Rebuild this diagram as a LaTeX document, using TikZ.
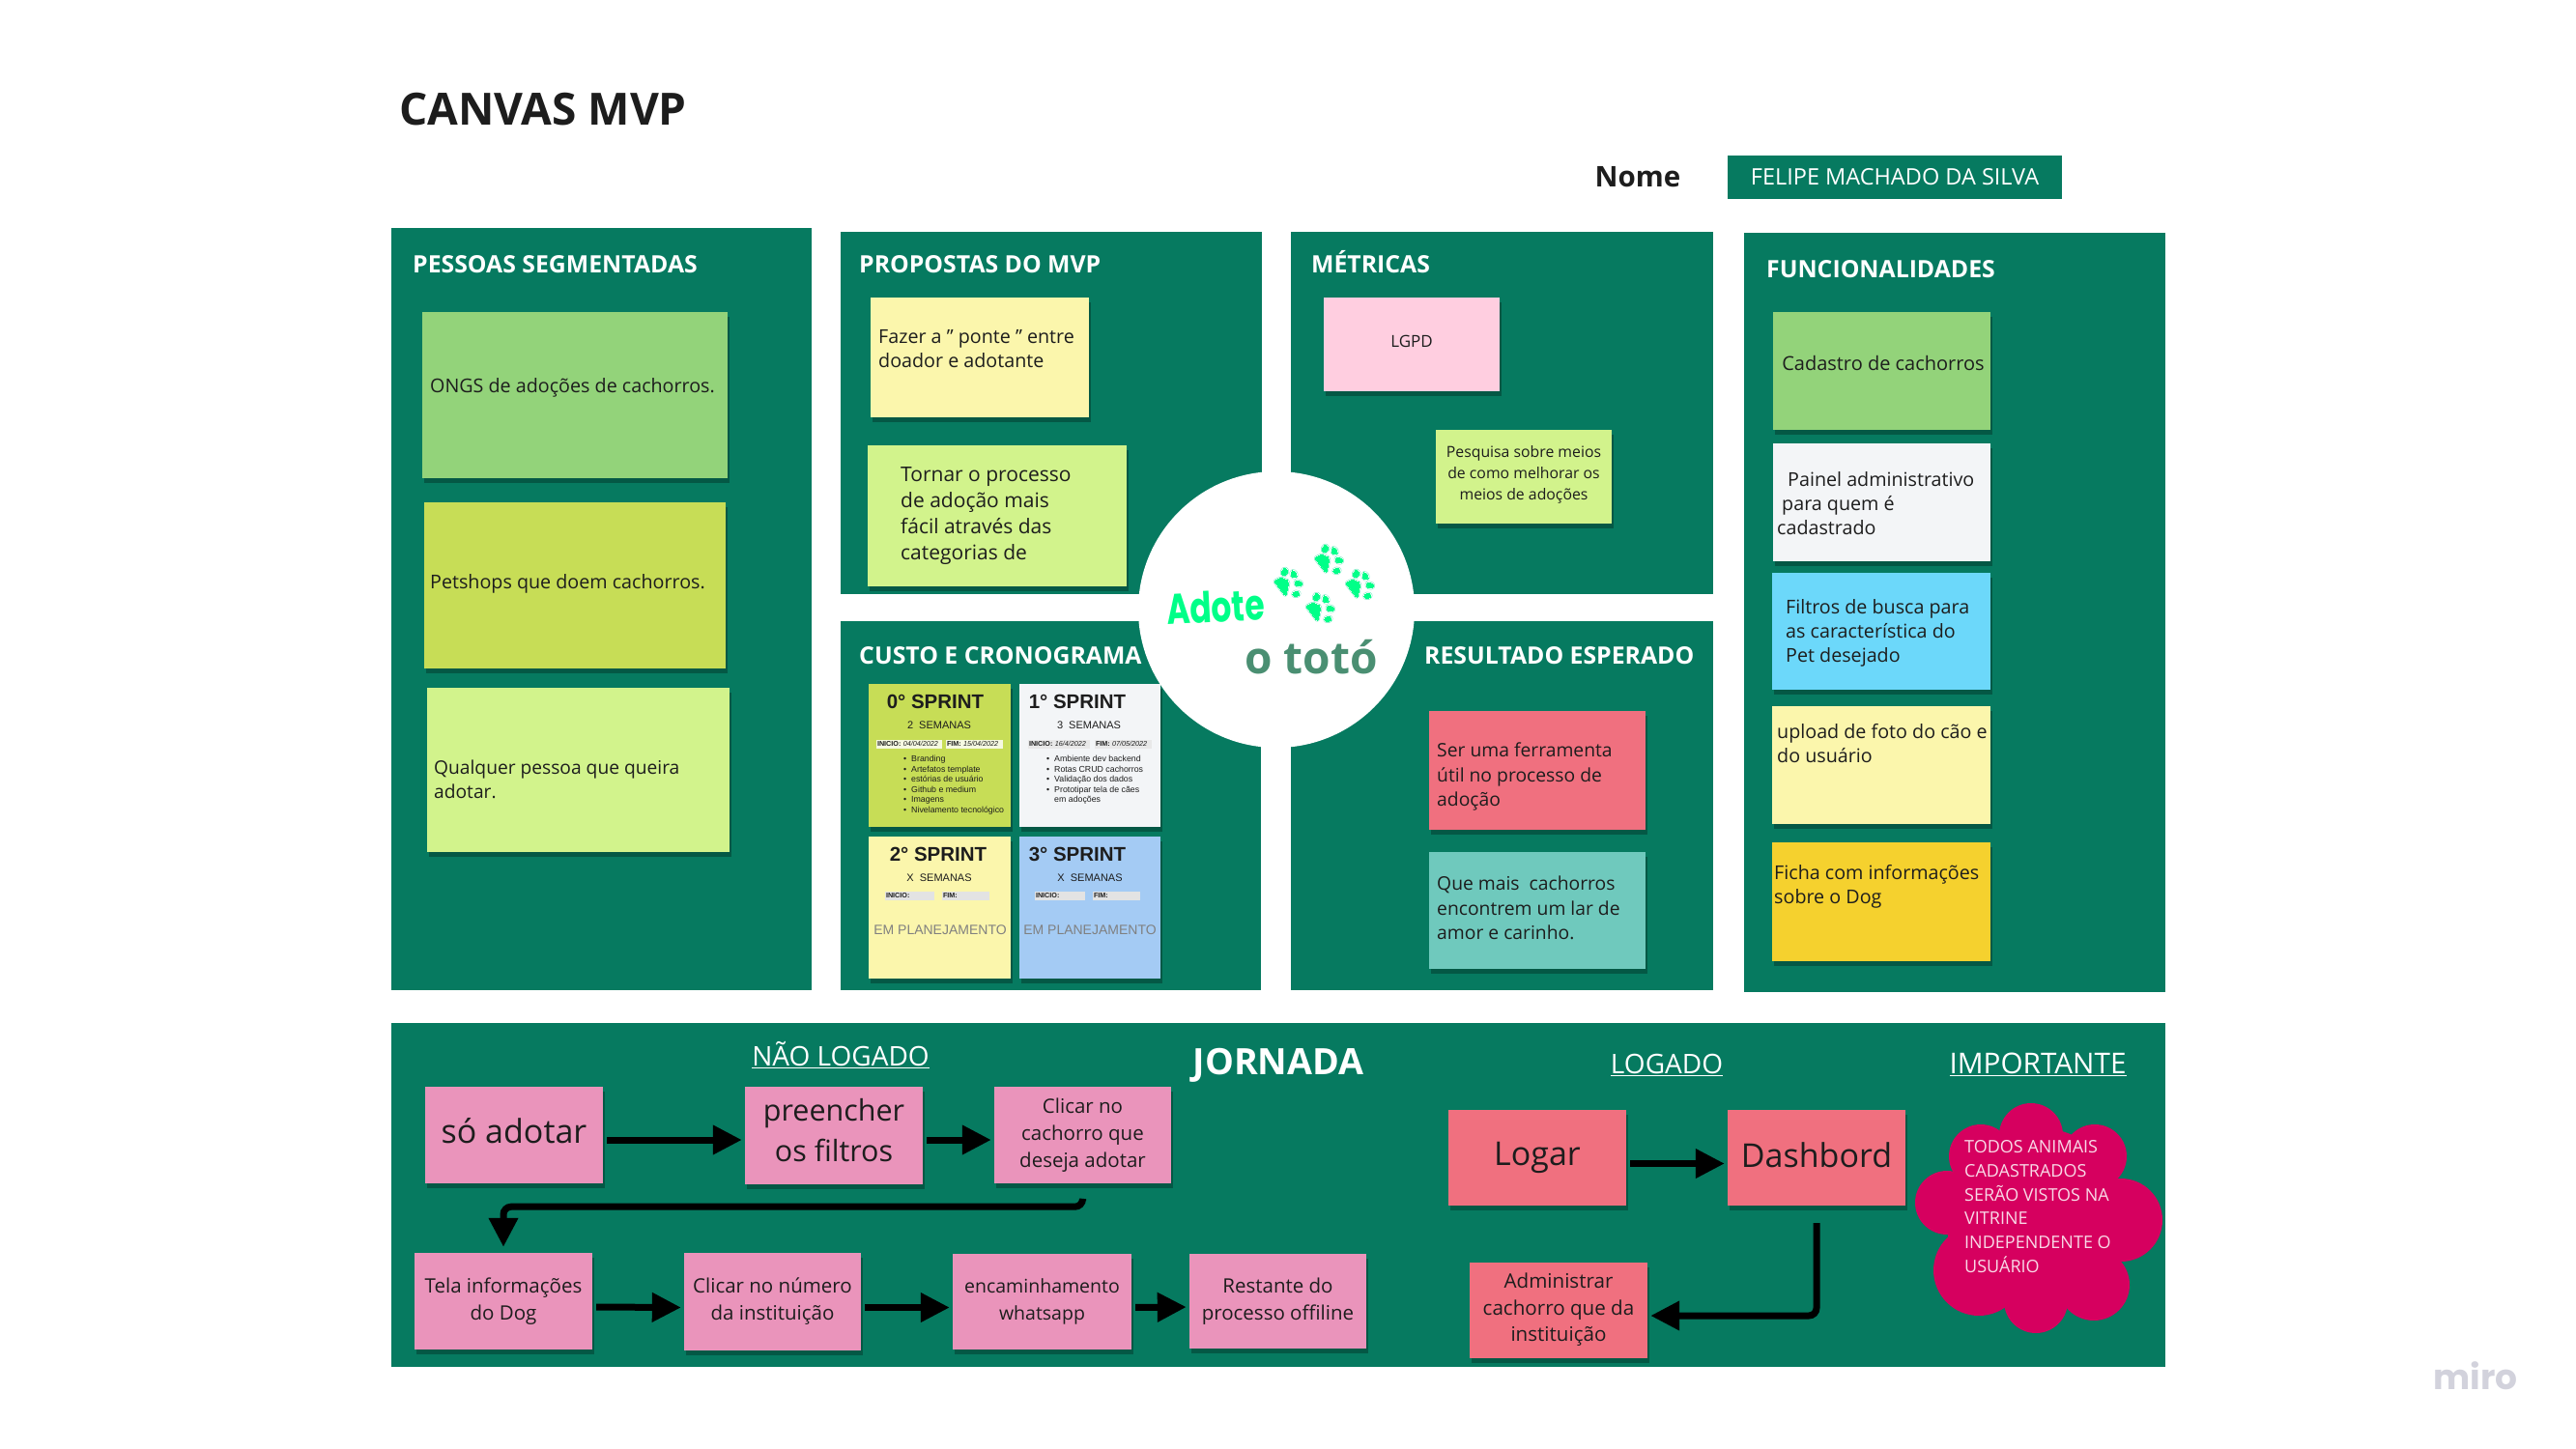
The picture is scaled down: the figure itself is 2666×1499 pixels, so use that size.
\documentclass[tikz,border=0pt]{standalone}
\usepackage{fontspec}
\usetikzlibrary{arrows.meta,shadows}
\setmainfont{Open Sans}
\newfontfamily\sprintfam{Liberation Sans}
\newfontfamily\popfam{Poppins}
\newcommand{\fsz}[2]{\fontsize{#1}{#2}\selectfont}
\newcommand{\itm}[1]{\makebox[8pt][l]{\textbullet}#1}
\definecolor{panelgreen}{HTML}{067A60}
\definecolor{stkgreen}{HTML}{93D37A}
\definecolor{stklime}{HTML}{C7DD56}
\definecolor{stkpale}{HTML}{D2F38C}
\definecolor{stkyellow}{HTML}{FBF6AC}
\definecolor{stkpink}{HTML}{FFCEE0}
\definecolor{stkwhite}{HTML}{F3F5F7}
\definecolor{stkcyan}{HTML}{6CD8FA}
\definecolor{stkgold}{HTML}{F5D12E}
\definecolor{stkcoral}{HTML}{F0707F}
\definecolor{stkteal}{HTML}{6FC9BD}
\definecolor{stkmauve}{HTML}{EA94BB}
\definecolor{stkblue}{HTML}{A4CBF4}
\definecolor{cloudpink}{HTML}{D6005F}
\definecolor{pawgreen}{HTML}{00FF88}
\definecolor{pawline}{HTML}{66E8BC}
\definecolor{totogreen}{HTML}{4A8F72}
\definecolor{inkdark}{HTML}{1D1D1D}
\definecolor{mirogray}{HTML}{D2D2DC}
\tikzset{
  >/.tip={Triangle[length=30pt,width=29pt]},
  panel/.style={fill=panelgreen},
  ptitle/.style={anchor=west,inner sep=0pt,text=white,text height=18pt,text depth=0pt,font=\fsz{24.8}{30}\bfseries},
  head/.style={inner sep=0pt,text=white,font=\fsz{28}{34}},
  note/.style 2 args={minimum width=#1,minimum height=#2,inner sep=0pt,text=inkdark,
    drop shadow={shadow xshift=2pt,shadow yshift=-5pt,shadow scale=1,xscale=.86,opacity=.28,fill=black}},
  txt/.style={anchor=west,inner sep=0pt,align=left,text=inkdark,font=\fsz{19.7}{25}},
  flow/.style={->,line width=7pt,draw=black,shorten >=3pt,shorten <=4pt},
  sprint/.style={inner sep=0pt,text=inkdark,font=\sprintfam\fsz{20.5}{24}\bfseries},
  weeks/.style={inner sep=0pt,text=inkdark,font=\sprintfam\fsz{11}{14}},
  chip/.style={fill=#1,inner xsep=1pt,inner ysep=0pt,minimum height=9pt,text=inkdark,align=left,
    font=\sprintfam\fsz{7.2}{9}},
  tasks/.style={anchor=north west,inner sep=0pt,align=left,text=inkdark,font=\sprintfam\fsz{8.8}{10.6}},
  plan/.style={inner sep=0pt,text=gray,font=\sprintfam\fsz{14}{18}},
  pawpart/.style={line join=round},
  pics/paw/.style={code={
    \foreach \lw/\cc in {3/pawline,2/white,0/pawgreen}{
      \path[pawpart,draw=\cc,fill=\cc,line width=\lw pt,rounded corners=2pt]
        (-12,-2) -- (-6,-5) -- (1,-2) -- (-2,11) -- (-5,7) -- cycle;
      \path[pawpart,draw=\cc,fill=\cc,line width=\lw pt,rotate around={-20:(-3,-10)}]
        (-3,-10) ellipse (2.4 and 3.2);
      \path[pawpart,draw=\cc,fill=\cc,line width=\lw pt,rotate around={25:(5,-8)}]
        (5,-8) ellipse (2.4 and 3.2);
      \path[pawpart,draw=\cc,fill=\cc,line width=\lw pt,rotate around={70:(9,0)}]
        (9,0) ellipse (2.4 and 3.2);
      \path[pawpart,draw=\cc,fill=\cc,line width=\lw pt,rotate around={100:(7,9)}]
        (7,9) ellipse (2.2 and 3);
    }
  }}
}
\begin{document}
\begin{tikzpicture}[x=1pt,y=-1pt]
\useasboundingbox[fill=white] (0,0) rectangle (2666,1499);
% header
\node (titulo) [anchor=west,inner sep=0pt,text=inkdark,font=\fsz{46}{54}\bfseries] at (413,113) {CANVAS MVP};
\node (nome) [inner sep=0pt,text=inkdark,font=\fsz{29.5}{36}\bfseries] at (1695,183) {Nome};
\node (aluno) [fill=panelgreen,minimum width=346pt,minimum height=45pt,inner sep=0pt,text=white,font=\fsz{23.5}{28}] at (1961,183) {FELIPE MACHADO DA SILVA};
% panels
\fill[panel] (405,236) rectangle (840,1025);
\fill[panel] (870,240) rectangle (1306,615);
\fill[panel] (1336,240) rectangle (1773,615);
\fill[panel] (1805,241) rectangle (2241,1027);
\fill[panel] (870,643) rectangle (1305,1025);
\fill[panel] (1336,643) rectangle (1773,1025);
\fill[panel] (405,1059) rectangle (2241,1415);
\fill[white] (1321,631) circle (143);
% panel titles
\node (tpessoas) [ptitle] at (427,273) {PESSOAS SEGMENTADAS};
\node (tpropostas) [ptitle] at (889,273) {PROPOSTAS DO MVP};
\node (tmetricas) [ptitle] at (1357,273) {MÉTRICAS};
\node (tfunc) [ptitle] at (1828,278) {FUNCIONALIDADES};
\node (tcusto) [ptitle] at (889,678) {CUSTO E CRONOGRAMA};
\node (tresult) [ptitle] at (1474,678) {RESULTADO ESPERADO};
% logo
\node (adote) [inner sep=0pt,text=pawgreen,rotate=3,xscale=.75,font=\popfam\fsz{44}{50}\bfseries] at (1258,628) {Adote};
\node (ototo) [inner sep=0pt,text=totogreen,font=\fsz{46}{56}\bfseries] at (1357,680) {o totó};
\foreach \px/\py in {1333/604,1375/580,1407/606,1366/630}
  \pic[scale=1.2] at (\px,\py) {paw};
% pessoas
\node (ongs) [note={316pt}{172pt},fill=stkgreen] at (595,409) {};
\node (ongst) [txt] at (445,401) {ONGS de adoções de cachorros.};
\node (pet) [note={312pt}{172pt},fill=stklime] at (595,606) {};
\node (pett) [txt] at (445,604) {Petshops que doem cachorros.};
\node (qq) [note={313pt}{170pt},fill=stkpale] at (598,797) {};
\node (qqt) [txt,font=\fsz{19.2}{25}] at (449,807) {Qualquer pessoa que queira\\adotar.};
% propostas
\node (fazer) [note={226pt}{124pt},fill=stkyellow] at (1014,370) {};
\node (fazert) [txt] at (909,361) {Fazer a " ponte " entre\\doador e adotante};
\node (tornar) [note={268pt}{146pt},fill=stkpale] at (1032,534) {};
\node (tornart) [txt,font=\fsz{21}{27}] at (932,534) {Tornar o processo\\de adoção mais\\fácil através das\\categorias de};
% metricas
\node (lgpd) [note={182pt}{97pt},fill=stkpink] at (1461,356) {};
\node (lgpdt) [txt,anchor=center,font=\fsz{17}{22}] at (1461,353) {LGPD};
\node (pesq) [note={182pt}{97pt},fill=stkpale] at (1577,493) {};
\node (pesqt) [txt,anchor=center,align=center,font=\fsz{15.8}{22}] at (1577,491) {Pesquisa sobre meios\\de como melhorar os\\meios de adoções};
% funcionalidades
\node (cad) [note={225pt}{122pt},fill=stkgreen] at (1947,384) {};
\node (cadt) [txt,anchor=center,font=\fsz{20}{25}] at (1949,376) {Cadastro de cachorros};
\node (painel) [note={225pt}{122pt},fill=stkwhite] at (1947,520) {};
\node (painelt) [txt] at (1839,521) {\hspace{11pt}Painel administrativo\\\hspace{5pt}para quem é\\cadastrado};
\node (filtros) [note={226pt}{121pt},fill=stkcyan] at (1947,653) {};
\node (filtrost) [txt] at (1848,655) {Filtros de busca para\\as característica do\\Pet desejado};
\node (upload) [note={226pt}{122pt},fill=stkyellow] at (1947,792) {};
\node (uploadt) [txt] at (1839,770) {upload de foto do cão e\\do usuário};
\node (ficha) [note={226pt}{123pt},fill=stkgold] at (1947,933) {};
\node (fichat) [txt] at (1836,918) {Ficha com informações\\sobre o Dog};
% resultado
\node (ser) [note={224pt}{123pt},fill=stkcoral] at (1591,797) {};
\node (sert) [txt,font=\fsz{19.3}{25.5}] at (1487,804) {Ser uma ferramenta\\útil no processo de\\adoção};
\node (que) [note={224pt}{121pt},fill=stkteal] at (1591,942) {};
\node (quet) [txt,font=\fsz{19.3}{25.5}] at (1487,940) {Que mais\ \ cachorros\\encontrem um lar de\\amor e carinho.};
% sprints
\node (s0) [note={147pt}{148pt},fill=stklime] at (972.5,782) {};
\node (s1) [note={146pt}{148pt},fill=stkwhite] at (1128,782) {};
\node (s2) [note={147pt}{147pt},fill=stkyellow] at (972.5,939.5) {};
\node (s3) [note={146pt}{147pt},fill=stkblue] at (1128,939.5) {};
\node (s0t) [sprint] at (968,726) {0° SPRINT};
\node (s0w) [weeks] at (972,751) {2\ \ SEMANAS};
\node (s0a) [chip=white!82!stklime,text width=66pt] at (941,770) {\textbf{INICIO:} \textit{04/04/2022}};
\node (s0b) [chip=white!82!stklime,text width=57pt] at (1008.5,770) {\textbf{FIM:} \textit{15/04/2022}};
\node (s0l) [tasks] at (935,782) {\itm{Branding}\\\itm{Artefatos template}\\\itm{estórias de usuário}\\\itm{Github e medium}\\\itm{Imagens}\\\itm{Nivelamento tecnológico}};
\node (s1t) [sprint] at (1115,726) {1° SPRINT};
\node (s1w) [weeks] at (1127,751) {3\ \ SEMANAS};
\node (s1a) [chip=gray!18,text width=62pt] at (1096,770) {\textbf{INICIO:} \textit{16/4/2022}};
\node (s1b) [chip=gray!18,text width=57pt] at (1162.5,770) {\textbf{FIM:} \textit{07/05/2022}};
\node (s1l) [tasks] at (1083,782) {\itm{Ambiente dev backend}\\\itm{Rotas CRUD cachorros}\\\itm{Validação dos dados}\\\itm{Prototipar tela de cães}\\\hspace{8pt}em adoções};
\node (s2t) [sprint] at (971,884) {2° SPRINT};
\node (s2w) [weeks] at (972,909) {X\ \ SEMANAS};
\node (s2a) [chip=gray!22,text width=49pt] at (941.5,927) {\textbf{INICIO:}};
\node (s2b) [chip=gray!22,text width=47pt] at (999.5,927) {\textbf{FIM:}};
\node (s2p) [plan] at (973,963) {EM PLANEJAMENTO};
\node (s3t) [sprint] at (1115,884) {3° SPRINT};
\node (s3w) [weeks] at (1128,909) {X\ \ SEMANAS};
\node (s3a) [chip=gray!22,text width=50pt] at (1097,927) {\textbf{INICIO:}};
\node (s3b) [chip=gray!22,text width=47pt] at (1155.5,927) {\textbf{FIM:}};
\node (s3p) [plan] at (1128,963) {EM PLANEJAMENTO};
% jornada
\node (jornada) [head,font=\fsz{37.6}{44}\bfseries] at (1323,1103) {JORNADA};
\node (hnao) [head] at (870,1092) {\underline{NÃO LOGADO}};
\node (hlog) [head] at (1725,1102) {\underline{LOGADO}};
\node (himp) [head,font=\fsz{29.7}{34}] at (2109,1102) {\underline{IMPORTANTE}};
\node (so) [note={184pt}{100pt},fill=stkmauve,text depth=10pt,font=\fsz{34}{40}] at (532,1175) {só adotar};
\node (pre) [note={184pt}{101pt},fill=stkmauve] at (863,1175) {};
\node (pret) [txt,anchor=center,align=center,font=\fsz{30.5}{42}] at (863,1170) {preencher\\os filtros};
\node (cli) [note={183pt}{100pt},fill=stkmauve,align=center,font=\fsz{20.5}{28}] at (1120.5,1175) {Clicar no\\cachorro que\\deseja adotar};
\node (tela) [note={184pt}{100pt},fill=stkmauve,align=center,font=\fsz{20.5}{28}] at (521,1347) {Tela informações\\do Dog};
\node (num) [note={183pt}{101pt},fill=stkmauve,align=center,font=\fsz{20.5}{28}] at (799.5,1347.5) {Clicar no número\\da instituição};
\node (enc) [note={185pt}{99pt},fill=stkmauve,align=center,font=\fsz{19.5}{28}] at (1078.5,1347.5) {encaminhamento\\whatsapp};
\node (rest) [note={183pt}{98pt},fill=stkmauve,align=center,font=\fsz{20.5}{28}] at (1322.5,1347) {Restante do\\processo offiline};
\node (logar) [note={184pt}{99pt},fill=stkcoral,font=\fsz{34}{40}] at (1591,1198.5) {Logar};
\node (dash) [note={184pt}{99pt},fill=stkcoral,text depth=6pt,font=\fsz{34}{40}] at (1880,1198.5) {Dashbord};
\node (admin) [note={184pt}{99pt},fill=stkcoral,align=center,font=\fsz{20.6}{27.5}] at (1613,1356) {Administrar\\cachorro que da\\instituição};
% arrows
\draw[flow] ([yshift=-5pt]so.east) -- ([yshift=-5pt]pre.west);
\draw[flow] ([yshift=-5pt]pre.east) -- ([yshift=-5pt]cli.west);
\draw[flow,rounded corners=8pt,shorten <=18pt,shorten >=6pt] (cli.south) -- ++(0,24) -| (tela.north);
\draw[flow] ([yshift=-6pt]tela.east) -- ([yshift=-6pt]num.west);
\draw[flow] ([yshift=-6pt]num.east) -- ([yshift=-6pt]enc.west);
\draw[flow] ([yshift=-6pt]enc.east) -- ([yshift=-6pt]rest.west);
\draw[flow] ([yshift=-6pt]logar.east) -- ([yshift=-6pt]dash.west);
\draw[flow,rounded corners=8pt,shorten <=18pt] (dash.south) |- ([yshift=-6pt]admin.east);
% aviso
\foreach \cx/\cy/\cr in {2107/1260/93,2102/1175/33,2050/1197/33,2168/1197/33,2015/1245/33,2195/1263/43,2048/1315/47,2107/1347/33,2167/1330/37}
  \fill[cloudpink] (\cx,\cy) circle (\cr);
\node (aviso) [anchor=west,inner sep=0pt,align=left,text=white!85!cloudpink,font=\fsz{18}{24.7}] at (2033,1249) {TODOS ANIMAIS\\CADASTRADOS\\SERÃO VISTOS NA\\VITRINE\\INDEPENDENTE O\\USUÁRIO};
\node (miro) [inner sep=0pt,text=mirogray,font=\popfam\fsz{36}{44}\bfseries] at (2562,1424) {miro};
\end{tikzpicture}
\end{document}
